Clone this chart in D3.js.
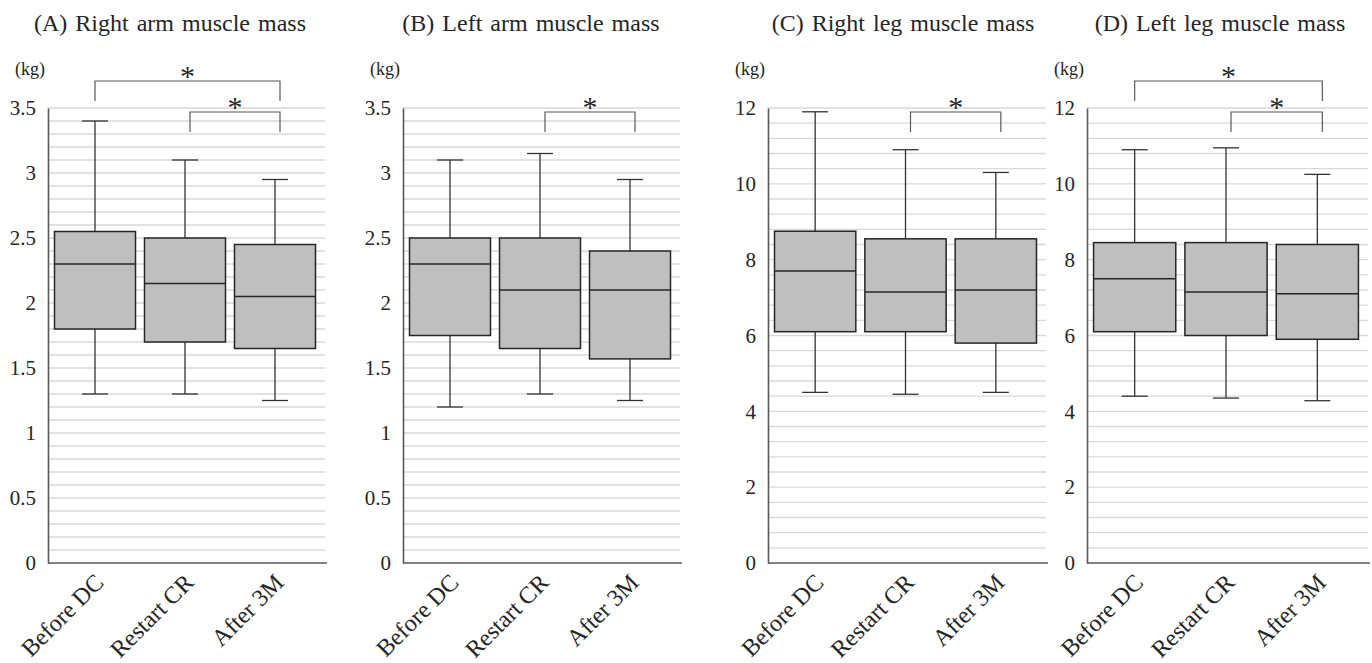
<!DOCTYPE html>
<html>
<head>
<meta charset="utf-8">
<script src="https://cdn.jsdelivr.net/npm/d3@7"></script>
<style>
  body { margin: 0; background: #fff; }
  text { font-family: "Liberation Serif", "DejaVu Serif", serif; fill: #262626; }
</style>
</head>
<body>
<script>
// categories and values: [min, q1, median, q3, max]
const groups = ['Before DC', 'Restart CR', 'After 3M'];
const titles = ['(A) Right arm muscle mass', '(B) Left arm muscle mass',
  '(C) Right leg muscle mass', '(D) Left leg muscle mass'];

const rightArm = [[1.3, 1.8, 2.3, 2.55, 3.4], [1.3, 1.7, 2.15, 2.5, 3.1], [1.25, 1.65, 2.05, 2.45, 2.95]];
const leftArm = [[1.2, 1.75, 2.3, 2.5, 3.1], [1.3, 1.65, 2.1, 2.5, 3.15], [1.25, 1.57, 2.1, 2.4, 2.95]];
const rightLeg = [[4.5, 6.1, 7.7, 8.75, 11.9], [4.45, 6.1, 7.15, 8.55, 10.9], [4.5, 5.8, 7.2, 8.55, 10.3]];
const leftLeg = [[4.4, 6.1, 7.5, 8.45, 10.9], [4.35, 6.0, 7.15, 8.45, 10.95], [4.28, 5.9, 7.1, 8.4, 10.25]];

const armTicks = [0, 0.5, 1, 1.5, 2, 2.5, 3, 3.5];
const legTicks = [0, 2, 4, 6, 8, 10, 12];

// significance brackets: [from group, to group, level]
const bracketsA = [[0, 2, 0], [1, 2, 1]];
const bracketsB = [[1, 2, 1]];
const bracketsC = [[1, 2, 1]];
const bracketsD = [[0, 2, 0], [1, 2, 1]];

const width = 1372;
const height = 663;
const yTop = 108;
const yBottom = 563;

const panels = [
  { title: titles[0], stats: rightArm, ticks: armTicks, max: 3.5, minor: 0.1, brackets: bracketsA, x0: 48, x1: 325, titleX: 170 },
  { title: titles[1], stats: leftArm, ticks: armTicks, max: 3.5, minor: 0.1, brackets: bracketsB, x0: 403, x1: 680, titleX: 531 },
  { title: titles[2], stats: rightLeg, ticks: legTicks, max: 12, minor: 0.4, brackets: bracketsC, x0: 768, x1: 1046, titleX: 903 },
  { title: titles[3], stats: leftLeg, ticks: legTicks, max: 12, minor: 0.4, brackets: bracketsD, x0: 1087, x1: 1368, titleX: 1220 },
];

const svg = d3.select('body').append('svg')
  .attr('width', width)
  .attr('height', height);

panels.forEach(p => {
  const g = svg.append('g');
  const y = d3.scaleLinear().domain([0, p.max]).range([yBottom, yTop]);
  const x = d3.scaleBand().domain(groups).range([p.x0 + 2, p.x1 - 5])
    .paddingInner(0.1).paddingOuter(0.05);
  const bw = x.bandwidth();
  const cx = i => x(groups[i]) + bw / 2;

  g.append('text')
    .attr('x', p.titleX).attr('y', 31)
    .attr('text-anchor', 'middle')
    .attr('font-size', 24)
    .attr('word-spacing', 2)
    .text(p.title);

  g.append('text')
    .attr('x', p.x0 - 33).attr('y', 75)
    .attr('font-size', 18)
    .text('(kg)');

  // gridlines
  const n = Math.round(p.max / p.minor);
  g.append('g').selectAll('line')
    .data(d3.range(1, n + 1).map(i => i * p.minor))
    .enter().append('line')
    .attr('x1', p.x0).attr('x2', p.x1)
    .attr('y1', d => y(d)).attr('y2', d => y(d))
    .attr('stroke', '#d9d9d9').attr('stroke-width', 1.3);

  // y axis
  const ay = g.append('g')
    .attr('transform', `translate(${p.x0},0)`)
    .call(d3.axisLeft(y).tickValues(p.ticks).tickSize(0).tickPadding(12).tickFormat(d => String(d)));
  ay.select('.domain').attr('stroke', '#595959').attr('stroke-width', 1.6);
  ay.selectAll('text')
    .attr('font-size', 21)
    .attr('font-family', '"Liberation Serif", serif')
    .attr('fill', '#262626');

  // x axis line
  g.append('line')
    .attr('x1', p.x0).attr('x2', p.x1 + 2)
    .attr('y1', yBottom).attr('y2', yBottom)
    .attr('stroke', '#595959').attr('stroke-width', 1.6);

  // boxes
  const box = g.append('g').selectAll('g')
    .data(p.stats)
    .enter().append('g');

  box.append('line')
    .attr('x1', (d, i) => cx(i)).attr('x2', (d, i) => cx(i))
    .attr('y1', d => y(d[0])).attr('y2', d => y(d[4]))
    .attr('stroke', '#333').attr('stroke-width', 1.3);
  box.append('line')
    .attr('x1', (d, i) => cx(i) - 13).attr('x2', (d, i) => cx(i) + 13)
    .attr('y1', d => y(d[4])).attr('y2', d => y(d[4]))
    .attr('stroke', '#333').attr('stroke-width', 1.3);
  box.append('line')
    .attr('x1', (d, i) => cx(i) - 13).attr('x2', (d, i) => cx(i) + 13)
    .attr('y1', d => y(d[0])).attr('y2', d => y(d[0]))
    .attr('stroke', '#333').attr('stroke-width', 1.3);
  box.append('rect')
    .attr('x', (d, i) => x(groups[i]))
    .attr('width', bw)
    .attr('y', d => y(d[3]))
    .attr('height', d => y(d[1]) - y(d[3]))
    .attr('fill', '#bfbfbf')
    .attr('stroke', '#262626').attr('stroke-width', 1.5);
  box.append('line')
    .attr('x1', (d, i) => x(groups[i])).attr('x2', (d, i) => x(groups[i]) + bw)
    .attr('y1', d => y(d[2])).attr('y2', d => y(d[2]))
    .attr('stroke', '#262626').attr('stroke-width', 1.5);

  // x labels
  g.append('g').selectAll('text')
    .data(groups)
    .enter().append('text')
    .attr('transform', (d, i) => `translate(${cx(i) + 10},${yBottom + 21}) rotate(-45)`)
    .attr('text-anchor', 'end')
    .attr('font-size', 24)
    .text(d => d);

  // brackets
  p.brackets.forEach(b => {
    const top = b[2] === 0 ? 81 : 112;
    const bx1 = cx(b[0]) + (b[0] === 0 ? 0 : 5);
    const bx2 = cx(b[1]) + 5;
    g.append('path')
      .attr('d', `M${bx1},${top + 20}V${top}H${bx2}V${top + 20}`)
      .attr('fill', 'none')
      .attr('stroke', '#595959').attr('stroke-width', 1.2);
    g.append('text')
      .attr('x', (bx1 + bx2) / 2).attr('y', top + 5)
      .attr('text-anchor', 'middle')
      .attr('font-size', 30)
      .text('*');
  });
});
</script>
</body>
</html>
